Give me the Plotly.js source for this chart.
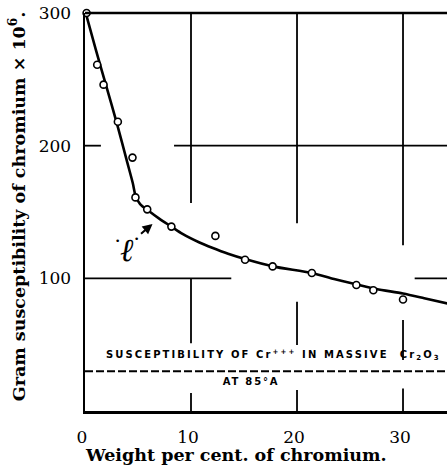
<!DOCTYPE html>
<html>
<head>
<meta charset="utf-8">
<script src="https://cdn.plot.ly/plotly-3.0.1.min.js"></script>
<style>
html,body{margin:0;padding:0;background:#fff;}
#chart{width:447px;height:469px;}
</style>
</head>
<body>
<div id="chart"></div>
<script>
// Measured susceptibility points (weight % Cr, gram susceptibility x 10^6)
const pointWeight = [0.15, 1.15, 1.75, 3.1, 4.48, 4.76, 5.87, 8.15, 12.3, 15.1, 17.7, 21.4, 25.6, 27.2, 30.0];
const pointSusc   = [300, 261, 246, 218, 191, 161, 152, 139, 132, 114, 109, 104, 95, 91, 84];

// Smooth drawn curve through the data
const curveWeight = [0, 1, 2, 3, 4, 4.5, 4.8, 5.2, 5.9, 7, 8.15, 9.2, 10.8, 12, 13.5, 15.1, 17.7, 21.4, 23.5, 25.6, 27.5, 30, 32, 34.2];
const curveSusc   = [302, 273, 245, 217, 187, 172, 161.5, 156, 151.5, 145, 139, 133.5, 127, 123, 118.5, 114.5, 109, 104, 99.5, 95.5, 92, 88.5, 85, 81];

// Reference level: susceptibility of Cr+++ in massive Cr2O3 at 85°A
const massiveLevel = 30;

const xTicks = [0, 10, 20, 30];
const yTicks = [100, 200, 300];
const xMax = 34.15;

const serif = '"DejaVu Serif", "Liberation Serif", serif';
const sans = '"DejaVu Sans", "Liberation Sans", sans-serif';

const traces = [
  {
    x: [0, xMax], y: [massiveLevel, massiveLevel],
    mode: 'lines', line: {color: '#000', width: 2, dash: '8px,3px'},
    hoverinfo: 'skip', showlegend: false
  },
  {
    x: curveWeight, y: curveSusc,
    mode: 'lines', line: {color: '#000', width: 2.6, shape: 'spline', smoothing: 0.8},
    hoverinfo: 'skip', showlegend: false
  },
  {
    x: pointWeight, y: pointSusc,
    mode: 'markers', cliponaxis: false,
    marker: {symbol: 'circle', size: 7, color: '#fff', line: {color: '#000', width: 1.6}},
    showlegend: false
  }
];

function seg(x0, y0, x1, y1) {
  return {type: 'line', xref: 'x', yref: 'y', x0: x0, y0: y0, x1: x1, y1: y1,
          line: {color: '#000', width: 1.8}, layer: 'below'};
}

const shapes = [
  // top frame line
  {type: 'line', xref: 'paper', yref: 'paper', x0: 0, y0: 1, x1: 1, y1: 1,
   line: {color: '#000', width: 2.5}},
  // horizontal grid at 200
  seg(0, 200, 1.5, 200), seg(8.4, 200, xMax, 200),
  // horizontal grid at 100
  seg(0, 100, 13.8, 100), seg(31.1, 100, xMax, 100),
  // vertical grid at 10
  seg(10, 156.7, 10, 300), seg(10, 51, 10, 100), seg(10, 0, 10, 13.5),
  // vertical grid at 20
  seg(20, 141.5, 20, 300), seg(20, 49.7, 20, 82.4), seg(20, 0, 20, 15.8),
  // vertical grid at 30
  seg(30, 125, 30, 300), seg(30, 38.4, 30, 68.6), seg(30, 0, 30, 17)
];

const annotations = [
  {xref: 'x', yref: 'y', x: 17.75, y: 42.2, xanchor: 'center', yanchor: 'middle', showarrow: false,
   text: 'SUSCEPTIBILITY OF Cr<sup>+++</sup> IN MASSIVE  Cr<sub>2</sub>O<sub>3</sub>',
   font: {family: sans, size: 10, color: '#000', weight: 'bold'}},
  {xref: 'x', yref: 'y', x: 15.7, y: 21.9, xanchor: 'center', yanchor: 'middle', showarrow: false,
   text: 'AT 85°A', font: {family: sans, size: 10, color: '#000', weight: 'bold'}},
  // the curve label "ℓ" with a dot on each side
  {xref: 'x', yref: 'y', x: 3.98, y: 121, xanchor: 'center', yanchor: 'middle', showarrow: false,
   text: '<i>ℓ</i>', font: {family: serif, size: 32, color: '#000'}},
  {xref: 'x', yref: 'y', x: 3.1, y: 128.5, xanchor: 'center', yanchor: 'middle', showarrow: false,
   text: '•', font: {family: sans, size: 9, color: '#000'}},
  {xref: 'x', yref: 'y', x: 4.82, y: 130, xanchor: 'center', yanchor: 'middle', showarrow: false,
   text: '•', font: {family: sans, size: 9, color: '#000'}},
  {xref: 'x', yref: 'y', x: 6.37, y: 141, text: '', showarrow: true,
   ax: -13, ay: 11, arrowhead: 2, arrowsize: 1, arrowwidth: 2, arrowcolor: '#000', standoff: 0},
  {xref: 'paper', yref: 'paper', x: 0.4185, y: -0.1106, xanchor: 'center', yanchor: 'middle', showarrow: false,
   text: 'Weight per cent. of chromium.', font: {family: serif, size: 17.5, color: '#000', weight: 'bold'}},
  {xref: 'paper', yref: 'paper', x: -0.19, y: 0.515, xanchor: 'center', yanchor: 'middle', showarrow: false,
   textangle: -90,
   text: 'Gram susceptibility of chromium × 10<sup>6</sup>.', font: {family: serif, size: 17.5, color: '#000', weight: 'bold'}}
];

const layout = {
  width: 447, height: 469,
  margin: {l: 85, r: 0, t: 13, b: 58, pad: 0},
  paper_bgcolor: '#fff', plot_bgcolor: '#fff',
  showlegend: false,
  xaxis: {
    range: [0, xMax], showline: true, linewidth: 2.5, linecolor: '#000', mirror: false,
    showgrid: false, zeroline: false, ticks: '', tickvals: xTicks,
    ticktext: xTicks.map(String), ticklabelstandoff: 9, ticklabelshift: -3,
    tickfont: {family: serif, size: 17, color: '#000'}, fixedrange: true
  },
  yaxis: {
    range: [0, 300], showline: true, linewidth: 2.5, linecolor: '#000', mirror: false,
    showgrid: false, zeroline: false, ticks: '', tickvals: yTicks,
    ticktext: yTicks.map(String), ticklabelstandoff: 8,
    tickfont: {family: serif, size: 17, color: '#000'}, fixedrange: true
  },
  shapes: shapes,
  annotations: annotations
};

Plotly.newPlot('chart', traces, layout, {displayModeBar: false, staticPlot: true}).then(function () {
  document.querySelectorAll('.annotation-text').forEach(function (t) {
    if (t.textContent.indexOf('SUSCEPTIBILITY') >= 0) t.style.letterSpacing = '2.1px';
    if (t.textContent.indexOf('AT 85') >= 0) t.style.letterSpacing = '1.8px';
  });
});
</script>
</body>
</html>
